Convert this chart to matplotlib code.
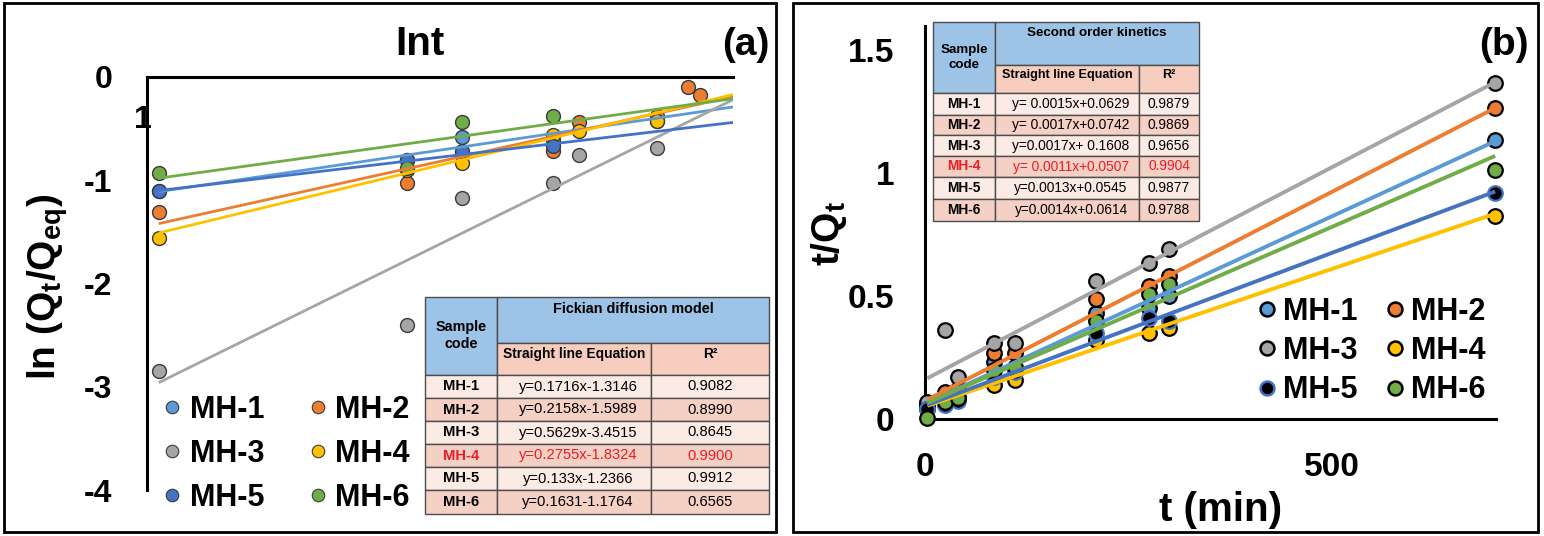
import matplotlib
matplotlib.use("Agg")
import matplotlib.pyplot as plt
from matplotlib.patches import Rectangle
from matplotlib.lines import Line2D

plt.rcParams['font.family'] = ['Liberation Sans', 'DejaVu Sans']
plt.rcParams['mathtext.default'] = 'regular'

# ---------------- data ----------------
series = ["MH-1", "MH-2", "MH-3", "MH-4", "MH-5", "MH-6"]
colors = ["#5B9BD5", "#ED7D31", "#A5A5A5", "#FFC000", "#4472C4", "#70AD47"]

# panel (a): ln t  vs  ln(Qt/Qeq)
a_lnt = [
    [1.10, 3.22, 3.69, 4.46, 5.35],
    [1.10, 3.22, 3.69, 4.46, 4.69, 5.35, 5.62, 5.72],
    [1.10, 3.22, 3.69, 4.46, 4.69, 5.35],
    [1.10, 3.22, 3.69, 4.46, 4.69, 5.35],
    [1.10, 3.22, 3.69, 4.46],
    [1.10, 3.22, 3.69, 4.46],
]
a_lnq = [
    [-1.10, -0.80, -0.58, -0.61, -0.43],
    [-1.31, -1.03, -0.75, -0.72, -0.44, -0.38, -0.10, -0.17],
    [-2.85, -2.40, -1.17, -1.03, -0.76, -0.69],
    [-1.56, -0.90, -0.83, -0.56, -0.52, -0.43],
    [-1.10, -0.80, -0.72, -0.67],
    [-0.93, -0.88, -0.44, -0.38],
]
a_fit_x = [1.10, 6.0]
a_fit_start = [-1.11, -1.42, -2.96, -1.51, -1.10, -0.98]
a_fit_end = [-0.29, -0.19, -0.22, -0.17, -0.44, -0.21]

# panel (b): t vs t/Qt
b_t = [3, 25, 40, 85, 110, 210, 275, 300, 700]
b_tq = [
    [0.05, 0.07, 0.09, 0.23, 0.19, 0.43, 0.45, 0.50, 1.134],
    [0.06, 0.11, 0.12, 0.27, 0.27, 0.49, 0.54, 0.58, 1.263],
    [0.07, 0.36, 0.17, 0.31, 0.31, 0.56, 0.635, 0.69, 1.367],
    [0.04, 0.06, 0.08, 0.14, 0.16, 0.32, 0.35, 0.37, 0.826],
    [0.04, 0.055, 0.075, 0.17, 0.19, 0.35, 0.41, 0.40, 0.92],
    [0.005, 0.07, 0.085, 0.20, 0.21, 0.40, 0.51, 0.55, 1.012],
]
b_fit_x = [3, 700]
b_fit_start = [0.067, 0.079, 0.166, 0.054, 0.058, 0.066]
b_fit_end = [1.13, 1.265, 1.37, 0.835, 0.925, 1.07]

a_yticks = [0, -1, -2, -3, -4]
a_yticklabels = ["0", "-1", "-2", "-3", "-4"]
b_xticks = [0, 500]
b_xticklabels = ["0", "500"]
b_yticks = [0, 0.5, 1, 1.5]
b_yticklabels = ["0", "0.5", "1", "1.5"]

# tables
tab_codes = ["MH-1", "MH-2", "MH-3", "MH-4", "MH-5", "MH-6"]
tab_a_eq = ["y=0.1716x-1.3146", "y=0.2158x-1.5989", "y=0.5629x-3.4515",
            "y=0.2755x-1.8324", "y=0.133x-1.2366", "y=0.1631-1.1764"]
tab_a_r2 = ["0.9082", "0.8990", "0.8645", "0.9900", "0.9912", "0.6565"]
tab_b_eq = ["y= 0.0015x+0.0629", "y= 0.0017x+0.0742", "y=0.0017x+ 0.1608",
            "y= 0.0011x+0.0507", "y=0.0013x+0.0545", "y=0.0014x+0.0614"]
tab_b_r2 = ["0.9879", "0.9869", "0.9656", "0.9904", "0.9877", "0.9788"]
highlight_row = 3

# ---------------- figure ----------------
W, H = 1544, 536
fig = plt.figure(figsize=(W / 100, H / 100), dpi=100)


def px_axes(x0, y0, x1, y1):
    return fig.add_axes([x0 / W, 1 - y1 / H, (x1 - x0) / W, (y1 - y0) / H])


EDGE_A = "#3a3a3a"

# ---- panel (a)
axA = px_axes(147, 77, 733, 490)
axA.set_xlim(1, 6)
axA.set_ylim(-4, 0)
for s in ["bottom", "right"]:
    axA.spines[s].set_visible(False)
for s in ["top", "left"]:
    axA.spines[s].set_linewidth(2.2)
    axA.spines[s].set_color("black")
axA.set_xticks([])
axA.set_yticks(a_yticks)
axA.set_yticklabels(a_yticklabels, fontsize=23, fontweight="bold")
axA.tick_params(axis="y", length=0, pad=25)

for i in range(6):
    axA.plot(a_lnt[i], a_lnq[i], "o", ms=10, mfc=colors[i], mec=EDGE_A, mew=1.0,
             zorder=3, clip_on=False)
for i in range(6):
    axA.plot(a_fit_x, [a_fit_start[i], a_fit_end[i]], "-", color=colors[i], lw=2.0,
             zorder=4, solid_capstyle="butt")

hA = [Line2D([], [], ls="", marker="o", ms=9, mfc=colors[i], mec=EDGE_A, mew=0.8)
      for i in range(6)]
order = [0, 2, 4, 1, 3, 5]
legA = axA.legend([hA[k] for k in order], [series[k] for k in order], ncol=2,
                  loc="upper left", bbox_to_anchor=(163 / W, 1 - 395 / H),
                  bbox_transform=fig.transFigure, frameon=False,
                  prop=dict(size=22, weight="bold"), borderpad=0, borderaxespad=0,
                  handlelength=0.6, handletextpad=0.28, columnspacing=1.44,
                  labelspacing=0.46)

# ---- panel (b)
axB = px_axes(925, 25.6, 1496, 419)
axB.set_xlim(0, 701)
axB.set_ylim(0, 1.6)
for s in ["top", "right"]:
    axB.spines[s].set_visible(False)
for s in ["bottom", "left"]:
    axB.spines[s].set_linewidth(2.2)
    axB.spines[s].set_color("black")
axB.set_xticks(b_xticks)
axB.set_xticklabels(b_xticklabels, fontsize=24, fontweight="bold")
axB.set_yticks(b_yticks)
axB.set_yticklabels(b_yticklabels, fontsize=24, fontweight="bold")
axB.tick_params(axis="both", length=0)
axB.tick_params(axis="x", pad=24)
axB.tick_params(axis="y", pad=22)

edgesB = ["black"] * 6
facesB = list(colors)
facesB[4] = "black"
edgesB[4] = "#4472C4"
for i in range(6):
    axB.plot(b_t, b_tq[i], "o", ms=10.5, mfc=facesB[i], mec=edgesB[i], mew=1.6,
             zorder=3, clip_on=False)
for i in range(6):
    axB.plot(b_fit_x, [b_fit_start[i], b_fit_end[i]], "-", color=colors[i], lw=2.8,
             zorder=4, solid_capstyle="butt")

hB = [Line2D([], [], ls="", marker="o", ms=10, mfc=facesB[i], mec=edgesB[i], mew=1.8)
      for i in range(6)]
legB = axB.legend([hB[k] for k in order], [series[k] for k in order], ncol=2,
                  loc="upper left", bbox_to_anchor=(1258 / W, 1 - 297 / H),
                  bbox_transform=fig.transFigure, frameon=False,
                  prop=dict(size=22, weight="bold"), borderpad=0, borderaxespad=0,
                  handlelength=0.6, handletextpad=0.22, columnspacing=0.92,
                  labelspacing=0.30)

# ---- overlay for frames, labels and tables
ov = fig.add_axes([0, 0, 1, 1], zorder=10)
ov.set_xlim(0, W)
ov.set_ylim(H, 0)
ov.axis("off")
ov.patch.set_alpha(0)

ov.add_patch(Rectangle((4, 3), 772, 529, fill=False, ec="black", lw=2))
ov.add_patch(Rectangle((793, 3), 745, 529, fill=False, ec="black", lw=2))

ov.text(420, 44, "Int", fontsize=29, fontweight="bold", ha="center", va="center")
ov.text(746, 45, "(a)", fontsize=28, fontweight="bold", ha="center", va="center")
ov.text(1504, 45, "(b)", fontsize=28, fontweight="bold", ha="center", va="center")
ov.text(143, 120, "1", fontsize=23, fontweight="bold", ha="center", va="center")
ov.text(48, 287, r"ln (Q$_{t}$/Q$_{eq}$)", fontsize=28, fontweight="bold",
        rotation=90, ha="center", va="center")
ov.text(829, 233, r"t/Q$_{t}$", fontsize=28, fontweight="bold",
        rotation=90, ha="center", va="center")
ov.text(1221, 510, "t (min)", fontsize=29, fontweight="bold", ha="center", va="center")

BLUE = "#9DC3E6"
PINK_H = "#F6CDBE"
PINK_L = "#FCEBE5"
PINK_D = "#F5D0C4"
TEDGE = "#4d4d4d"
RED = "#EE1C25"


def draw_table(cols, rows, title, eqs, r2s, fs_head, fs_body, lead):
    x0, x1, x2, x3 = cols
    r = rows
    kw = dict(ec=TEDGE, lw=1.0)
    ov.add_patch(Rectangle((x0, r[0]), x1 - x0, r[2] - r[0], fc=BLUE, **kw))
    ov.add_patch(Rectangle((x1, r[0]), x3 - x1, r[1] - r[0], fc=BLUE, **kw))
    ov.add_patch(Rectangle((x1, r[1]), x2 - x1, r[2] - r[1], fc=PINK_H, **kw))
    ov.add_patch(Rectangle((x2, r[1]), x3 - x2, r[2] - r[1], fc=PINK_H, **kw))
    ov.text((x1 + x3) / 2, r[0] + 0.26 * (r[1] - r[0]), title, fontsize=fs_head,
            fontweight="bold", ha="center", va="center")
    cy = (r[0] + r[2]) / 2
    ov.text((x0 + x1) / 2, cy - lead / 2, "Sample", fontsize=fs_head,
            fontweight="bold", ha="center", va="center")
    ov.text((x0 + x1) / 2, cy + lead / 2, "code", fontsize=fs_head,
            fontweight="bold", ha="center", va="center")
    sy = r[1] + 0.35 * (r[2] - r[1])
    ov.text((x1 + x2) / 2, sy, "Straight line Equation", fontsize=fs_head * 0.95,
            fontweight="bold", ha="center", va="center")
    ov.text((x2 + x3) / 2, sy, "R²", fontsize=fs_head * 0.95,
            fontweight="bold", ha="center", va="center")
    for i in range(6):
        ya, yb = r[2 + i], r[3 + i]
        fc = PINK_L if i % 2 == 0 else PINK_D
        for (a, b) in [(x0, x1), (x1, x2), (x2, x3)]:
            ov.add_patch(Rectangle((a, ya), b - a, yb - ya, fc=fc, **kw))
        col = RED if i == highlight_row else "black"
        ym = (ya + yb) / 2
        ov.text((x0 + x1) / 2, ym, tab_codes[i], fontsize=fs_body, fontweight="bold",
                ha="center", va="center", color=col)
        ov.text((x1 + x2) / 2 + 4, ym, eqs[i], fontsize=fs_body, ha="center",
                va="center", color=col)
        ov.text((x2 + x3) / 2, ym, r2s[i], fontsize=fs_body, ha="center",
                va="center", color=col)


draw_table((425, 497, 651, 769),
           (297, 343, 375, 398, 421, 444, 467, 490, 514),
           "Fickian diffusion model", tab_a_eq, tab_a_r2, 10.4, 10.6, 17)
draw_table((933, 995, 1139, 1199),
           (22, 64.7, 93.3, 114.7, 135.3, 156, 177, 198.7, 220.7),
           "Second order kinetics", tab_b_eq, tab_b_r2, 9.6, 9.9, 15.7)

fig.savefig("out.png", dpi=100)
